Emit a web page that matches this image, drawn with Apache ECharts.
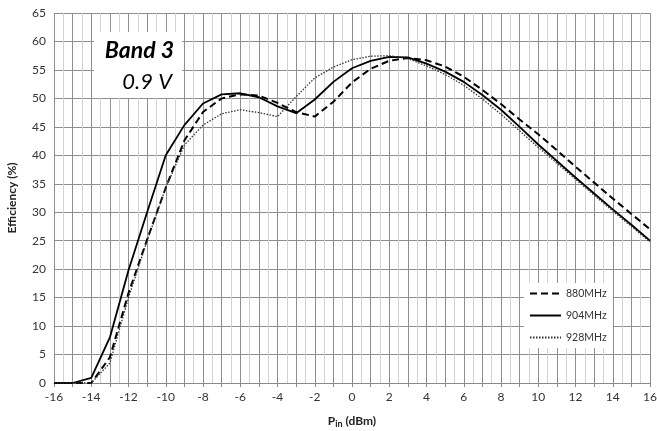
<!DOCTYPE html>
<html>
<head>
<meta charset="utf-8">
<script src="https://cdn.jsdelivr.net/npm/echarts@6/dist/echarts.min.js"></script>
<style>html,body{margin:0;padding:0;background:#fff}#c{width:657px;height:431px}</style>
</head>
<body>
<div id="c"></div>
<script>
const pin = [-16,-15,-14,-13,-12,-11,-10,-9,-8,-7,-6,-5,-4,-3,-2,-1,0,1,2,3,4,5,6,7,8,9,10,11,12,13,14,15,16];
const eff880 = [0,0,0,4.5,15.8,25.2,34.3,42.6,47.6,50.0,50.7,50.5,49.2,47.6,46.8,49.4,52.8,55.2,56.6,57.1,56.7,55.6,53.8,51.5,49.0,46.3,43.7,40.9,38.0,35.2,32.4,29.7,27.0];
const eff904 = [0,0,0.9,8,19.8,30,40,45.3,49.1,50.7,50.9,50.2,48.6,47.4,49.8,52.9,55.3,56.6,57.3,57.2,56.1,54.7,52.9,50.6,48.0,45.0,41.9,39.0,36.1,33.3,30.5,27.8,25.0];
const eff928 = [0,0,0,3.5,15,25,34.3,41.8,45.3,47.3,48.0,47.5,46.8,50.3,53.6,55.5,56.8,57.4,57.5,57.0,55.7,54.2,52.3,49.9,47.2,44.3,41.4,38.6,35.8,33.0,30.2,27.5,24.8];
const seriesNames = ['880MHz','904MHz','928MHz'];
const titleLines = ['Band 3','0.9 V'];

const pairs = ys => pin.map((x,i)=>[x, ys[i]]);
const chart = echarts.init(document.getElementById('c'));
const fontFam = 'Lato, "Open Sans", sans-serif';
chart.setOption({
  animation:false,
  textStyle:{fontFamily:fontFam},
  grid:{left:54,right:7,top:13,bottom:48,containLabel:false,outerBoundsMode:'none'},
  xAxis:{
    type:'value',min:-16,max:16,interval:1,
    name:'{p|P}{s|in}{p| (dBm)}',nameLocation:'middle',nameGap:31,
    nameTextStyle:{rich:{
      p:{fontWeight:'bold',fontSize:12,color:'#222',fontFamily:fontFam},
      s:{fontWeight:'bold',fontSize:9,color:'#222',padding:[6,0,0,0],fontFamily:fontFam}
    }},
    axisLine:{show:true,onZero:false,lineStyle:{color:'#8a8a8a'}},
    axisTick:{show:true,length:4,lineStyle:{color:'#8a8a8a'}},
    axisLabel:{formatter:v=> (v%2===0? String(v):''),fontSize:12,color:'#333',margin:8,fontFamily:fontFam},
    splitLine:{show:true,lineStyle:{color:'#8f8f8f',width:1}},
    minorTick:{show:false,splitNumber:2},
    minorSplitLine:{show:true,lineStyle:{color:'#d2d2d2',width:1}}
  },
  yAxis:{
    type:'value',min:0,max:65,interval:5,
    name:'Efficiency (%)',nameLocation:'middle',nameGap:36,
    nameTextStyle:{fontWeight:'bold',fontSize:12,color:'#222',fontFamily:fontFam},
    axisLine:{show:true,lineStyle:{color:'#8a8a8a'}},
    axisTick:{show:true,length:4,lineStyle:{color:'#8a8a8a'}},
    axisLabel:{fontSize:12,color:'#333',margin:8,fontFamily:fontFam},
    splitLine:{show:true,lineStyle:{color:'#8f8f8f',width:1}}
  },
  legend:{
    orient:'vertical',left:524,top:283,padding:[5,6,5,5],
    backgroundColor:'#fff',itemWidth:31,itemHeight:10,itemGap:11,
    itemStyle:{opacity:0},
    textStyle:{fontSize:10.5,color:'#333',fontFamily:fontFam},
    data:seriesNames
  },
  graphic:[
    {type:'rect',shape:{x:94,y:32,width:88,height:66},style:{fill:'#fff'},z:10},
    {type:'text',x:174,y:51,style:{text:titleLines[0],font:'italic bold 23px '+fontFam,fill:'#000',textAlign:'right',textVerticalAlign:'middle'},z:11},
    {type:'text',x:172,y:82,style:{text:titleLines[1],font:'italic 22px '+fontFam,fill:'#000',textAlign:'right',textVerticalAlign:'middle'},z:11}
  ],
  series:[
    {name:seriesNames[0],type:'line',data:pairs(eff880),symbol:'none',showSymbol:false,
     lineStyle:{color:'#000',width:2,type:[7,4]},itemStyle:{color:'#000'}},
    {name:seriesNames[1],type:'line',data:pairs(eff904),symbol:'none',showSymbol:false,
     lineStyle:{color:'#000',width:1.8,type:'solid'},itemStyle:{color:'#000'}},
    {name:seriesNames[2],type:'line',data:pairs(eff928),symbol:'none',showSymbol:false,
     lineStyle:{color:'#333',width:1.3,type:[1.5,1.5]},itemStyle:{color:'#333'}}
  ]
});
</script>
</body>
</html>
